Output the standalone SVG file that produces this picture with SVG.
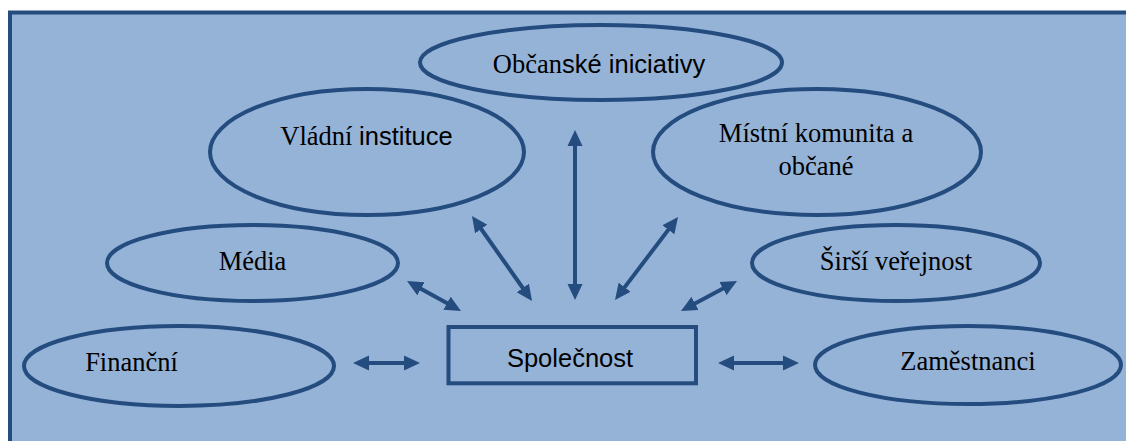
<svg xmlns="http://www.w3.org/2000/svg" width="1126" height="441" viewBox="0 0 1126 441">
<style>
.node{fill:#95B3D7;stroke:#244C7F;stroke-width:4}
.serif{font-family:"Liberation Serif","Times New Roman",serif;font-size:26.5px;fill:#000}
.sans{font-family:"Liberation Sans",Arial,sans-serif;font-size:25.5px;fill:#000}
.conn{stroke:#244C7F;stroke-width:4;fill:none;marker-start:url(#ah);marker-end:url(#ah)}
</style>
<defs>
<marker id="ah" viewBox="0 0 16 16" refX="8" refY="8" markerWidth="16" markerHeight="16" markerUnits="userSpaceOnUse" orient="auto-start-reverse">
<path d="M0,0.5 L16,8 L0,15.5 z" fill="#244C7F"/>
</marker>
</defs>
<rect x="0" y="0" width="1126" height="441" fill="#fff"/>
<rect x="10" y="12.5" width="1200" height="500" fill="#95B3D7" stroke="#244C7F" stroke-width="4"/>
<g id="obcanske">
<ellipse class="node" cx="601" cy="62.5" rx="181" ry="37.5"/>
<text x="599" y="73" text-anchor="middle"><tspan class="serif">Občan</tspan><tspan class="sans">ské iniciativy</tspan></text>
</g>
<g id="vladni">
<ellipse class="node" cx="367" cy="152" rx="157" ry="63"/>
<text x="366.5" y="145" text-anchor="middle"><tspan class="serif">Vládní </tspan><tspan class="sans">instituce</tspan></text>
</g>
<g id="mistni">
<ellipse class="node" cx="817" cy="152" rx="164" ry="63"/>
<text class="serif" x="816" y="142" text-anchor="middle">Místní komunita a</text>
<text class="serif" x="816" y="175" text-anchor="middle">občané</text>
</g>
<g id="media">
<ellipse class="node" cx="252.5" cy="263" rx="145.5" ry="38"/>
<text class="serif" x="252.5" y="270" text-anchor="middle">Média</text>
</g>
<g id="sirsi">
<ellipse class="node" cx="896" cy="263" rx="144" ry="38"/>
<text class="serif" x="896" y="270" text-anchor="middle">Širší veřejnost</text>
</g>
<g id="financni">
<ellipse class="node" cx="179" cy="366" rx="155" ry="40"/>
<text class="serif" x="131.5" y="371" text-anchor="middle">Finanční</text>
</g>
<g id="zamestnanci">
<ellipse class="node" cx="968" cy="365" rx="153" ry="39"/>
<text class="serif" x="968" y="370" text-anchor="middle">Zaměstnanci</text>
</g>
<g id="spolecnost">
<rect class="node" x="448.5" y="327" width="247.5" height="56.3"/>
<text class="sans" x="570" y="367" text-anchor="middle">Společnost</text>
</g>
<g id="connectors">
<line class="conn" x1="361" y1="363" x2="412" y2="363"/>
<line class="conn" x1="726" y1="363" x2="791" y2="363"/>
<line class="conn" x1="414" y1="284.9" x2="454" y2="307.1"/>
<line class="conn" x1="476.6" y1="222.5" x2="527.4" y2="294.5"/>
<line class="conn" x1="575" y1="138" x2="575" y2="292"/>
<line class="conn" x1="673.2" y1="223.4" x2="619.8" y2="293.6"/>
<line class="conn" x1="730" y1="284.8" x2="688" y2="307.2"/>
</g>
</svg>
